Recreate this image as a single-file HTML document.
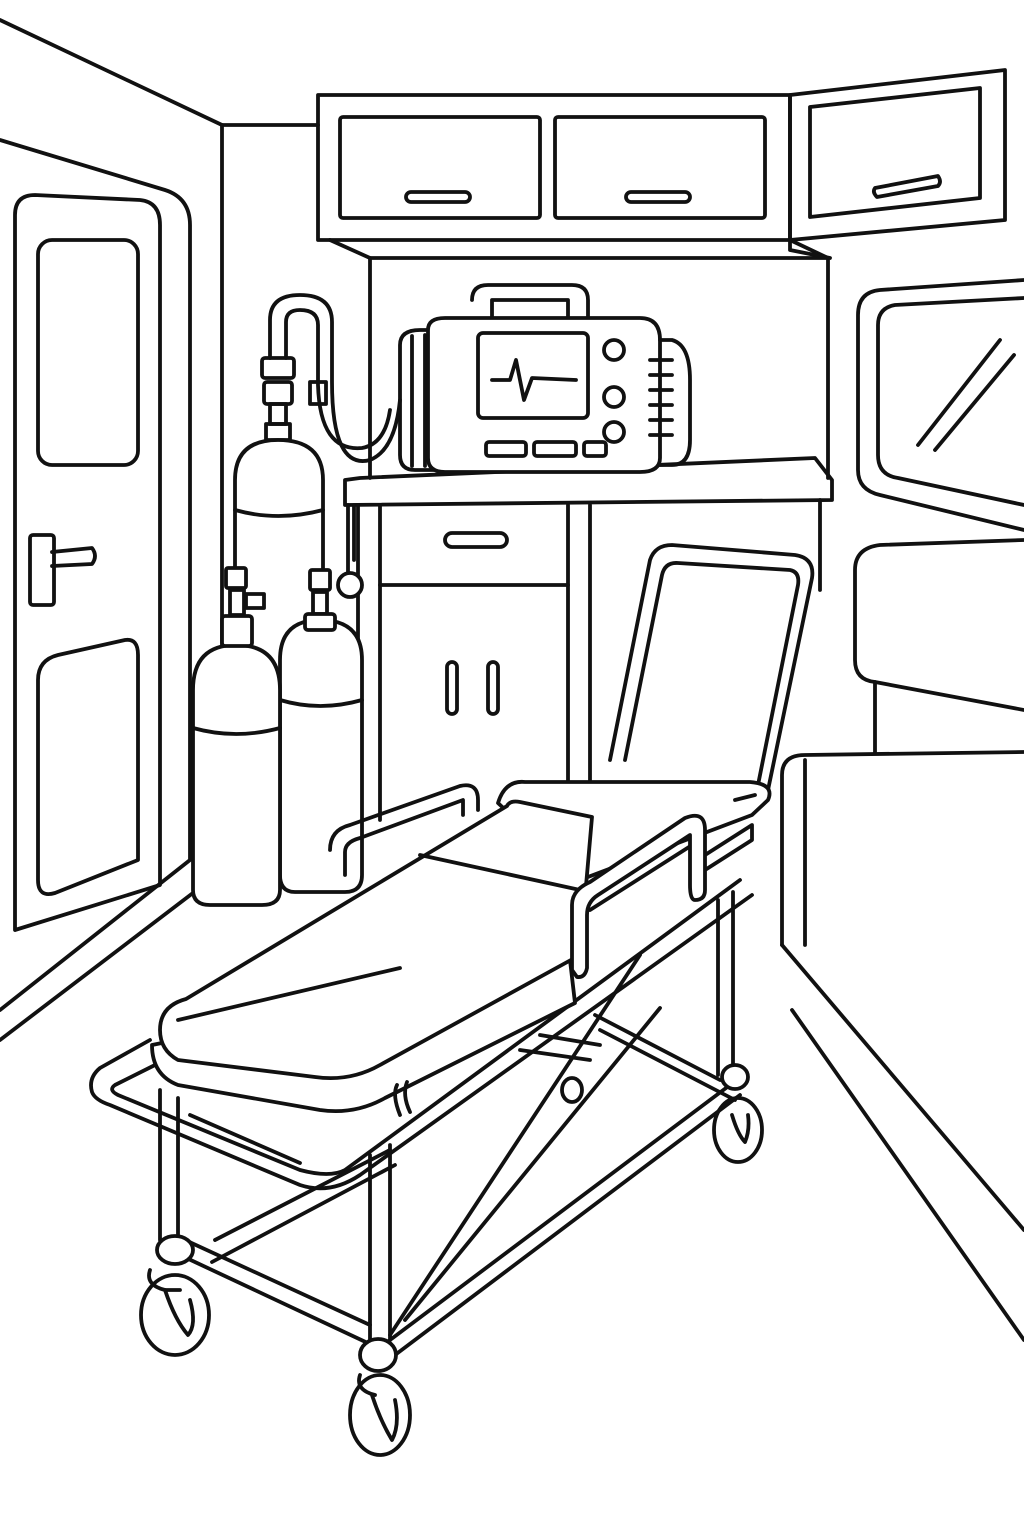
<!DOCTYPE html>
<html><head><meta charset="utf-8"><style>
html,body{margin:0;padding:0;background:#fff}
svg{display:block}
</style></head><body>
<svg width="1024" height="1536" viewBox="0 0 1024 1536" xmlns="http://www.w3.org/2000/svg" fill="none" stroke="#111" stroke-width="3.8" stroke-linecap="round" stroke-linejoin="round">
<rect width="1024" height="1536" fill="#fff" stroke="none"/>
<path d="M0 20 L222 125 L318 125"/>
<path d="M222 125 L222 858"/>
<path d="M0 140 L165 190 Q190 198 190 225 L190 860 L0 1010"/>
<path d="M0 1040 L210 880"/>
<path d="M15 215 Q15 195 35 195 L140 200 Q160 202 160 225 L160 885 L15 930 Z" />
<rect x="38" y="240" width="100" height="225" rx="14"/>
<path d="M38 680 Q38 660 58 655 L125 640 Q138 638 138 655 L138 860 L55 893 Q38 898 38 880 Z"/>
<rect x="30" y="535" width="24" height="70" rx="3"/>
<path d="M52 552 L92 548 Q98 556 92 564 L52 566"/>
<rect x="318" y="95" width="472" height="145"/>
<rect x="340" y="117" width="200" height="101" rx="3"/>
<rect x="555" y="117" width="210" height="101" rx="3"/>
<rect x="406" y="192" width="64" height="10" rx="5"/>
<rect x="626" y="192" width="64" height="10" rx="5"/>
<path d="M790 95 L1005 70 L1005 220 L790 240 Z"/>
<path d="M810 107 L980 88 L980 198 L810 217 Z"/>
<path d="M875 188 L938 176 Q942 182 938 186 L877 197 Q872 192 875 188Z"/>
<path d="M330 240 L370 258 L828 258 L790 240"/>
<path d="M370 258 L370 478 M828 258 L828 478"/>
<path d="M790 240 L790 250 L830 258"/>
<path d="M345 480 L360 478 L815 458 L832 480 L832 500 L345 505 Z"/>
<path d="M358 505 L358 820 M820 500 L820 590"/>
<path d="M380 505 L380 820 M568 505 L568 820 M590 505 L590 790"/>
<path d="M380 585 L568 585"/>
<rect x="445" y="533" width="62" height="14" rx="7"/>
<rect x="447" y="662" width="10" height="52" rx="5"/>
<rect x="488" y="662" width="10" height="52" rx="5"/>
<path d="M472 300 Q472 285 488 285 L572 285 Q588 285 588 300 L588 318 M492 318 L492 300 L568 300 L568 318"/>
<path d="M400 345 Q400 330 420 330 L440 330 L440 470 L415 470 Q400 470 400 455 Z"/>
<path d="M412 336 L412 466 M425 335 L425 466"/>
<path d="M428 330 Q428 318 445 318 L640 318 Q660 318 660 340 L660 458 Q660 472 640 472 L445 472 Q428 472 428 458 Z" fill="#fff"/>
<path d="M660 340 L672 340 Q690 345 690 380 L690 440 Q690 465 672 465 L660 465"/>
<path d="M650 360 h22 M650 375 h22 M650 390 h22 M650 405 h22 M650 420 h22 M650 435 h22"/>
<rect x="478" y="333" width="110" height="85" rx="5"/>
<path d="M492 380 L510 380 L516 360 L524 400 L532 378 L576 380"/>
<circle cx="614" cy="350" r="10"/><circle cx="614" cy="397" r="10"/><circle cx="614" cy="432" r="10"/>
<rect x="486" y="442" width="40" height="14" rx="3"/><rect x="534" y="442" width="42" height="14" rx="3"/>
<rect x="584" y="442" width="22" height="14" rx="3"/>
<path d="M270 358 L270 320 Q270 295 300 295 Q332 295 332 322 L332 382 Q332 470 370 460 Q395 450 400 400"/>
<path d="M286 358 L286 322 Q286 310 300 310 Q318 310 318 325 L318 385 Q320 452 362 448 Q385 444 390 410"/>
<rect x="262" y="358" width="32" height="20" rx="3"/>
<rect x="264" y="382" width="28" height="22" rx="3"/>
<rect x="270" y="404" width="16" height="20"/>
<rect x="310" y="382" width="16" height="22"/>
<rect x="266" y="424" width="24" height="16"/>
<path d="M235 480 Q235 440 278 440 Q323 440 323 480 L323 870 L235 870 Z" fill="#fff"/>
<path d="M235 510 Q278 522 323 510"/>
<path d="M348 505 L348 575 M354 505 L354 560"/>
<circle cx="350" cy="585" r="12" fill="#fff"/>
<path d="M280 660 Q280 620 320 620 Q362 620 362 660 L362 875 Q362 892 345 892 L295 892 Q280 892 280 875 Z" fill="#fff"/>
<path d="M280 700 Q320 712 362 700"/>
<path d="M193 690 Q193 645 236 645 Q280 645 280 690 L280 890 Q280 905 262 905 L210 905 Q193 905 193 890 Z" fill="#fff"/>
<path d="M193 728 Q236 740 280 728"/>
<rect x="226" y="568" width="20" height="20" rx="2" fill="#fff"/>
<rect x="230" y="590" width="14" height="25" fill="#fff"/>
<rect x="246" y="594" width="18" height="14"/>
<rect x="222" y="616" width="30" height="30" rx="3" fill="#fff"/>
<rect x="310" y="570" width="20" height="20" rx="2" fill="#fff"/>
<rect x="313" y="592" width="14" height="22" fill="#fff"/>
<rect x="305" y="614" width="30" height="16" rx="3" fill="#fff"/>
<path d="M880 290 L1024 280 M858 315 Q858 292 880 290 M858 315 L858 470 Q858 490 880 495 L1024 530"/>
<path d="M895 305 L1024 298 M878 325 Q878 308 895 305 M878 325 L878 455 Q878 475 898 478 L1024 505"/>
<path d="M918 445 L1000 340 M935 450 L1014 355"/>
<path d="M880 545 L1024 540 M855 570 Q855 548 880 545 M855 570 L855 660 Q855 680 875 682 L1024 710"/>
<path d="M875 682 L875 770"/>
<path d="M782 945 L782 775 Q782 755 805 755 L1024 752" fill="#fff"/>
<path d="M782 945 L1024 1230 M805 760 L805 945"/>
<path d="M792 1010 L1024 1340"/>
<path d="M610 760 L650 560 Q655 545 672 545 L795 555 Q815 558 812 578 L768 790"/>
<path d="M625 760 L662 575 Q665 562 678 563 L790 570 Q800 572 798 585 L758 785"/>
<path d="M498 803 Q505 780 525 782 L750 782 Q775 784 768 800 L752 815 L580 880 Z" fill="#fff"/>
<path d="M735 800 L755 795"/>
<!-- frame -->
<path d="M150 1040 L100 1068 Q88 1078 92 1092 Q95 1100 110 1105 L300 1185 Q330 1195 360 1175 L752 895"/>
<path d="M165 1060 L115 1085 Q108 1090 118 1095 L300 1170 Q330 1178 345 1170 L740 880"/>
<path d="M190 1115 L300 1163"/>
<path d="M160 1090 L160 1240 M178 1098 L178 1240"/>
<path d="M370 1155 L370 1340 M390 1145 L390 1340"/>
<path d="M718 900 L718 1075 M733 892 L733 1070"/>
<path d="M185 1240 L370 1325 M215 1240 L390 1150"/>
<path d="M180 1255 L372 1345 M212 1262 L395 1165"/>
<path d="M390 1340 L730 1085 M395 1355 L740 1095"/>
<path d="M390 1335 L640 955 M405 1320 L660 1008"/>
<path d="M595 1015 L720 1080 M600 1030 L735 1100"/>
<path d="M540 1035 L600 1045 M520 1050 L590 1060"/>
<!-- mattress -->
<path d="M152 1045 Q152 1075 178 1085 L320 1110 Q355 1115 385 1098 L575 1003 L570 960 Z" fill="#fff"/>
<path d="M186 999 L507 806 Q510 800 520 802 L592 817 L580 955 L380 1065 Q350 1082 315 1077 L178 1060 Q160 1050 160 1030 Q160 1006 186 999 Z" fill="#fff"/>
<path d="M178 1020 L400 968"/>
<path d="M420 855 L580 890"/>
<path d="M397 1085 Q392 1095 400 1115 M407 1082 Q402 1095 410 1112"/>
<path d="M330 850 Q330 830 350 825 L460 786 Q478 782 478 800 L478 810"/>
<path d="M345 875 L345 852 Q345 842 360 838 L463 800 L463 815"/>
<path d="M705 870 L752 840 L752 825 L705 855 M590 910 L700 840"/>
<path d="M572 970 L572 905 Q572 890 590 882 L685 818 Q705 810 705 830 L705 890 Q705 900 695 900 Q690 900 690 885 L690 835 L598 895 Q587 902 587 915 L587 968 Q585 978 577 977Z" fill="#fff"/>
<ellipse cx="175" cy="1250" rx="18" ry="14" fill="#fff"/>
<path d="M150 1270 Q145 1285 165 1290 L180 1290"/>
<ellipse cx="175" cy="1315" rx="34" ry="40"/>
<path d="M165 1290 Q175 1320 188 1335 Q197 1325 190 1300"/>
<ellipse cx="378" cy="1355" rx="18" ry="16" fill="#fff"/>
<path d="M360 1375 Q355 1390 375 1395"/>
<ellipse cx="380" cy="1415" rx="30" ry="40"/>
<path d="M372 1395 Q380 1420 392 1440 Q400 1425 395 1400"/>
<ellipse cx="735" cy="1077" rx="13" ry="12" fill="#fff"/>
<ellipse cx="738" cy="1130" rx="24" ry="32"/>
<path d="M732 1115 Q738 1135 745 1142 Q750 1130 748 1115"/>
<ellipse cx="572" cy="1090" rx="10" ry="12"/>
</svg>
</body></html>
